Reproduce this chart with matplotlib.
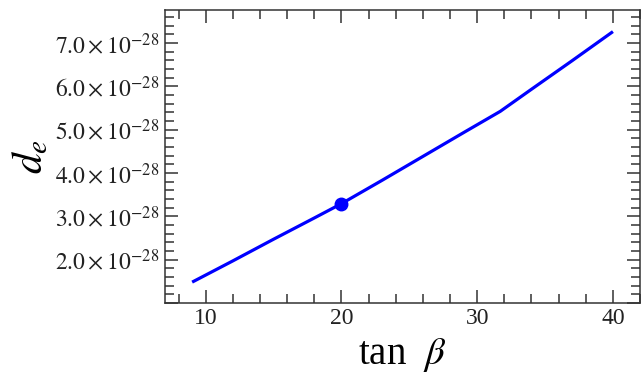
import numpy as np
import matplotlib
matplotlib.use("Agg")
import matplotlib.pyplot as plt
from matplotlib.ticker import MultipleLocator, FuncFormatter

plt.rcParams['font.family'] = ['Liberation Serif', 'DejaVu Serif']
plt.rcParams['mathtext.fontset'] = 'stix'

# data (d_e in units of 1e-28)
tan_beta = [9, 12, 15, 18, 20, 23, 26, 29, 31.7, 34, 37, 40]
d_e = [1.48, 1.97, 2.47, 2.96, 3.29, 3.83, 4.38, 4.93, 5.42, 5.93, 6.59, 7.26]
point_x = [20]
point_y = [3.29]
exponent = -28

fig = plt.figure(figsize=(6.42, 3.82), dpi=100)
ax = fig.add_axes([0.257, 0.207, 0.740, 0.767])

ax.plot(tan_beta, d_e, color='#0000ff', lw=2.3, solid_capstyle='butt')
ax.plot(point_x, point_y, 'o', color='#0000ff', ms=9)

ax.set_xlim(7, 42)
ax.set_ylim(1.0, 7.76)

ax.xaxis.set_major_locator(MultipleLocator(10))
ax.xaxis.set_minor_locator(MultipleLocator(2))
ax.yaxis.set_major_locator(MultipleLocator(1))
ax.yaxis.set_minor_locator(MultipleLocator(0.2))

def yfmt(v, pos):
    if v < 1.5:
        return ""
    return r"$%.1f\times10^{%d}$" % (v, exponent)

ax.yaxis.set_major_formatter(FuncFormatter(yfmt))

framecol = '#333333'
for s in ax.spines.values():
    s.set_linewidth(1.1)
    s.set_color(framecol)

ax.tick_params(which='both', direction='in', top=True, right=True,
               color=framecol, width=1.1, labelsize=17, labelcolor='#222222')
ax.tick_params(which='major', length=9.5, pad=4)
ax.tick_params(which='minor', length=6.5)

ax.set_xlabel(r"tan  $\beta$", fontsize=28, labelpad=5)
ax.set_ylabel(r"$d_e$", fontsize=30, labelpad=3)

fig.savefig("out.png", dpi=100)
